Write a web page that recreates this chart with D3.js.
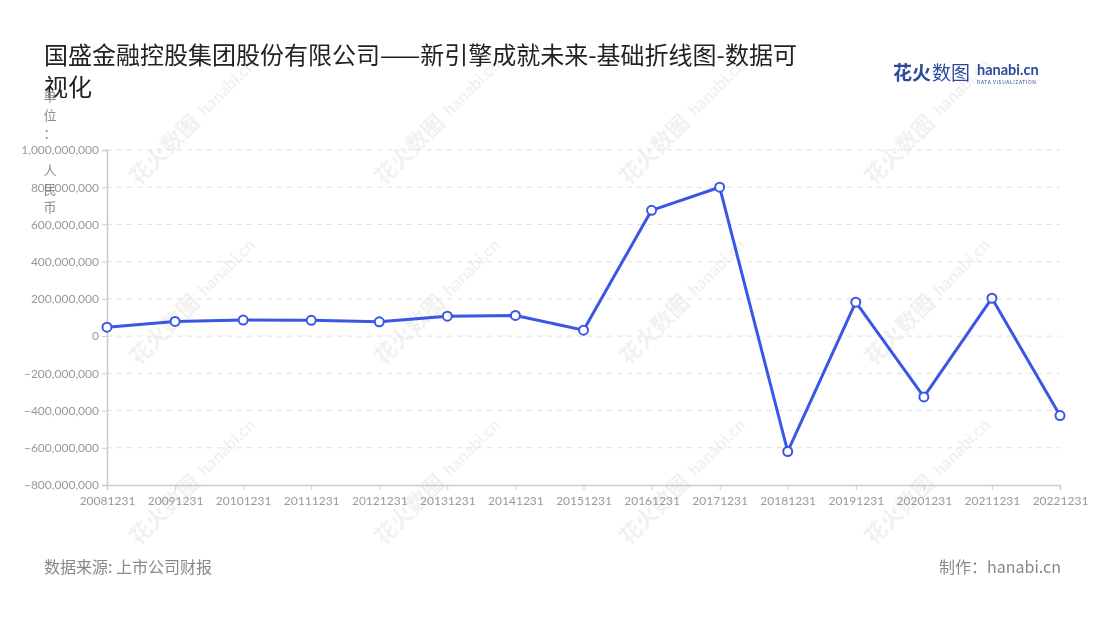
<!DOCTYPE html>
<html><head><meta charset="utf-8">
<script src="https://cdn.jsdelivr.net/npm/d3@7"></script>
<style>
html,body{margin:0;padding:0;background:#fff;}
svg{font-family:"Noto Sans CJK SC","Noto Sans",sans-serif;display:block;}
</style></head>
<body><svg id="c" width="1100" height="620"></svg>
<script>
const categories = ["20081231","20091231","20101231","20111231","20121231","20131231","20141231","20151231","20161231","20171231","20181231","20191231","20201231","20211231","20221231"];
const values = [48000000,79000000,86000000,85000000,77000000,107000000,111000000,32000000,676000000,800000000,-620000000,182000000,-327000000,204000000,-427000000];
const yTicks = [-800000000,-600000000,-400000000,-200000000,0,200000000,400000000,600000000,800000000,1000000000];
const titleLines = ["国盛金融控股集团股份有限公司——新引擎成就未来-基础折线图-数据可","视化"];
const unitLabel = ["单","位","：","","人","民","币"];
const sourceText = "数据来源: 上市公司财报";
const makerText = "制作：hanabi.cn";

(function(){
const svg = d3.select("#c");
const pLeft = 107, pRight = 1060, pTop = 150, pBottom = 485;

// watermarks
const wm = svg.append("g").attr("opacity", 0.07);
for (let r = 0; r < 3; r++) {
  for (let c = 0; c < 4; c++) {
    const cx = 160 + c * 245, cy = 165 + r * 180;
    const g = wm.append("g").attr("transform", `translate(${cx},${cy}) rotate(-45)`);
    g.append("text").attr("x", -30).attr("y", 0).attr("font-size", 22).attr("font-weight", "bold").attr("fill", "#333").text("花火数图");
    g.append("text").attr("x", 66).attr("y", -2).attr("font-size", 17).attr("font-weight", "bold").attr("fill", "#333").attr("font-family", "Lato, sans-serif").text("hanabi.cn");
  }
}

const x = d3.scalePoint().domain(categories).range([pLeft, pRight]);
const y = d3.scaleLinear().domain([-800000000, 1000000000]).range([pBottom, pTop]);

// grid
svg.append("g").selectAll("line").data(yTicks.filter(d => d !== -800000000)).join("line")
  .attr("x1", pLeft).attr("x2", pRight)
  .attr("y1", d => y(d)).attr("y2", d => y(d))
  .attr("stroke", "#e0e0e0").attr("stroke-dasharray", "5,5").attr("stroke-width", 1);

// y axis
const fmt = d3.format(",");
const ya = svg.append("g").attr("transform", `translate(${pLeft},0)`)
  .call(d3.axisLeft(y).tickValues(yTicks).tickFormat(d => fmt(d)).tickSize(5).tickPadding(3));
ya.select(".domain").attr("stroke", "#ccc").attr("stroke-width", 1.5);
ya.selectAll(".tick line").attr("stroke", "#ccc");
ya.selectAll("text").attr("fill", "#999").attr("font-size", 12).attr("font-family", "Lato, 'Noto Sans', sans-serif");

// x axis
const xa = svg.append("g").attr("transform", `translate(0,${pBottom})`)
  .call(d3.axisBottom(x).tickSize(5).tickPadding(6).tickSizeOuter(5));
xa.select(".domain").attr("stroke", "#ccc").attr("stroke-width", 1.5);
xa.selectAll(".tick line").attr("stroke", "#ccc");
xa.selectAll("text").attr("fill", "#999").attr("font-size", 12).attr("font-family", "Lato, 'Noto Sans', sans-serif");

// line
const color = "#3a56e4";
svg.append("path").datum(values)
  .attr("fill", "none").attr("stroke", color).attr("stroke-width", 3).attr("stroke-linejoin", "round")
  .attr("d", d3.line().x((d, i) => x(categories[i])).y(d => y(d)));
svg.append("g").selectAll("circle").data(values).join("circle")
  .attr("cx", (d, i) => x(categories[i])).attr("cy", d => y(d)).attr("r", 4.5)
  .attr("fill", "#fff").attr("stroke", color).attr("stroke-width", 2);

// title
const t = svg.append("text").attr("font-size", 24).attr("fill", "#222");
titleLines.forEach((l, i) => t.append("tspan").attr("x", 44).attr("y", 64 + i * 32).text(l));

// unit label (vertical)
const u = svg.append("text").attr("font-size", 13).attr("fill", "#8a8a9c").attr("text-anchor", "middle");
unitLabel.forEach((ch, i) => u.append("tspan").attr("x", 50).attr("y", 101 + i * 18.5).text(ch));

// logo
const logo = svg.append("g");
logo.append("text").attr("x", 893).attr("y", 80).attr("font-size", 19).attr("font-weight", "bold").attr("fill", "#2b4a9c").text("花火");
logo.append("text").attr("x", 932).attr("y", 80).attr("font-size", 19).attr("fill", "#2b4a9c").text("数图");
logo.append("text").attr("x", 977).attr("y", 75).attr("font-size", 14.5).attr("font-weight", "bold").attr("fill", "#2b4a9c").attr("font-family", "Lato, sans-serif").text("hanabi.cn");
logo.append("text").attr("x", 977).attr("y", 84).attr("font-size", 5).attr("fill", "#2b4a9c").attr("letter-spacing", 0.6).text("DATA VISUALIZATION");

// footer
svg.append("text").attr("x", 44).attr("y", 573).attr("font-size", 16).attr("fill", "#888").text(sourceText);
svg.append("text").attr("x", 1061).attr("y", 573).attr("font-size", 16).attr("fill", "#888").attr("text-anchor", "end").text(makerText);
})();
</script></body></html>
